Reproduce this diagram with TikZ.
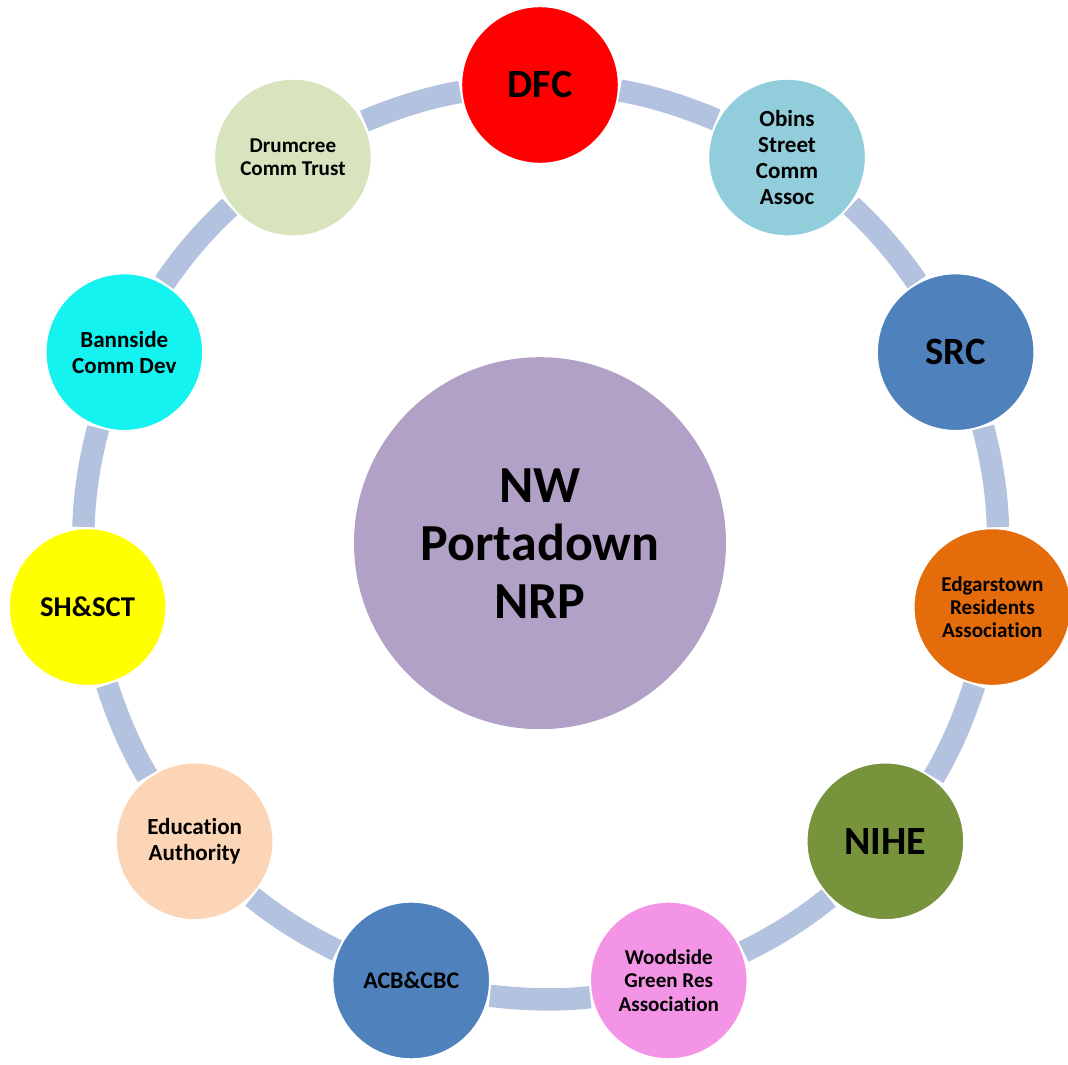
\documentclass[tikz,border=0pt]{standalone}
\usepackage{fontspec}
\setmainfont{Carlito}[Ligatures=NoCommon]
\definecolor{ringblue}{RGB}{179,194,222}
\definecolor{dfcred}{RGB}{255,0,0}
\definecolor{obinsblue}{RGB}{146,205,220}
\definecolor{steelblue}{RGB}{79,129,189}
\definecolor{edgarorange}{RGB}{228,108,10}
\definecolor{niheolive}{RGB}{119,147,60}
\definecolor{woodpink}{RGB}{243,148,230}
\definecolor{eduapricot}{RGB}{251,213,181}
\definecolor{shyellow}{RGB}{255,255,0}
\definecolor{banncyan}{RGB}{20,243,240}
\definecolor{drumsage}{RGB}{215,228,189}
\definecolor{centrelilac}{RGB}{178,161,199}

\begin{document}
\begin{tikzpicture}[
		member/.style={circle, draw=white, line width=0.06cm, minimum size=3.95cm, inner sep=0pt, align=center, font=\bfseries},
		ring/.style={draw=ringblue, line width=0.56cm, looseness=0.855}]
		\useasboundingbox (-13.5, -13.05) rectangle (13.2, 13.55);
		% Centre and members:
		\node[circle, fill=centrelilac, minimum size=9.3cm, inner sep=0pt, align=center, font=\bfseries\fontsize{37}{41.3}\selectfont] (centre) at (0, -0.03){NW\\Portadown\\NRP};
		\node[member, fill=dfcred, font=\bfseries\fontsize{28.5}{32}\selectfont] (dfc) at (0, 11.425){DFC};
		\node[member, fill=obinsblue, font=\bfseries\fontsize{16.4}{18.5}\selectfont] (obins) at (6.176, 9.612){Obins\\Street\\Comm\\Assoc};
		\node[member, fill=steelblue, font=\bfseries\fontsize{27.5}{31}\selectfont] (src) at (10.392, 4.746){SRC};
		\node[member, fill=edgarorange, font=\bfseries\fontsize{15}{16.4}\selectfont] (edgar) at (11.309, -1.626){Edgarstown\\Residents\\Association};
		\node[member, fill=niheolive, font=\bfseries\fontsize{28.5}{32}\selectfont] (nihe) at (8.634, -7.482){NIHE};
		\node[member, fill=woodpink, font=\bfseries\fontsize{15}{16.6}\selectfont] (woodside) at (3.219, -10.962){Woodside\\Green Res\\Association};
		\node[member, fill=steelblue, font=\bfseries\fontsize{17}{19}\selectfont] (acb) at (-3.219, -10.962){ACB\&CBC};
		\node[member, fill=eduapricot, font=\bfseries\fontsize{16.4}{18.5}\selectfont] (education) at (-8.634, -7.482){Education\\Authority};
		\node[member, fill=shyellow, font=\bfseries\fontsize{20.4}{23}\selectfont] (shsct) at (-11.309, -1.626){SH\&SCT};
		\node[member, fill=banncyan, font=\bfseries\fontsize{16.4}{18.5}\selectfont] (bannside) at (-10.392, 4.746){Bannside\\Comm Dev};
		\node[member, fill=drumsage, font=\bfseries\fontsize{15}{16.4}\selectfont] (drumcree) at (-6.176, 9.612){Drumcree\\Comm Trust};
		% Ring segments:
		\draw[ring] (dfc.-4.9) to[out=-9.79, in=157.06] (obins.152.17);
		\draw[ring] (obins.-37.63) to[out=-42.52, in=124.34] (src.119.45);
		\draw[ring] (src.-70.36) to[out=-75.25, in=91.61] (edgar.86.72);
		\draw[ring] (edgar.-103.08) to[out=-107.97, in=58.88] (nihe.53.99);
		\draw[ring] (nihe.-135.81) to[out=-140.70, in=26.15] (woodside.21.26);
		\draw[ring] (woodside.-168.54) to[out=-173.43, in=-6.57] (acb.-11.46);
		\draw[ring] (acb.158.74) to[out=153.85, in=-39.30] (education.-44.19);
		\draw[ring] (education.126.01) to[out=121.12, in=-72.03] (shsct.-76.92);
		\draw[ring] (shsct.93.28) to[out=88.39, in=-104.76] (bannside.-109.65);
		\draw[ring] (bannside.60.55) to[out=55.66, in=-137.48] (drumcree.-142.37);
		\draw[ring] (drumcree.27.83) to[out=22.94, in=-170.21] (dfc.-175.10);
	\end{tikzpicture}
\end{document}
